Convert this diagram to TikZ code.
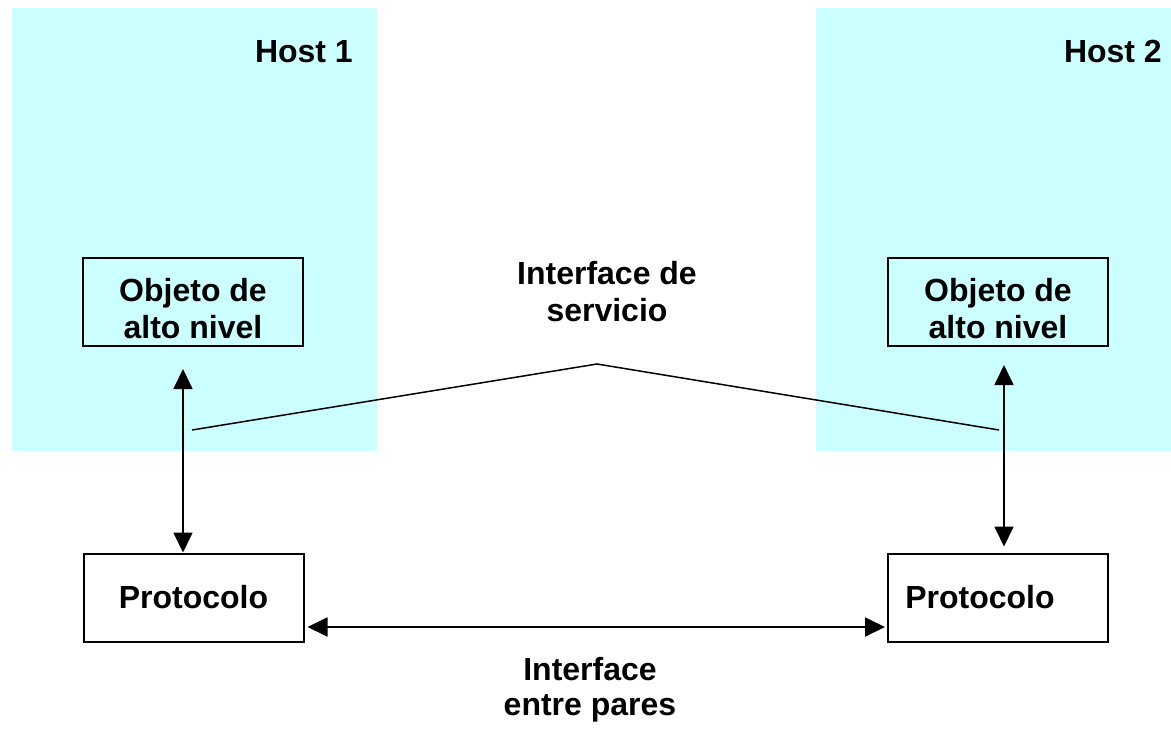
\documentclass[tikz,border=0pt]{standalone}
\usepackage{fontspec}
\setmainfont{Liberation Sans}
\usetikzlibrary{arrows.meta}
\definecolor{hostcyan}{RGB}{204,255,255}
\tikzset{
  lbl/.style={font=\fontsize{32}{37}\selectfont\bfseries, inner sep=0pt, align=center},
  box/.style={draw=black, line width=2pt, minimum width=220pt, minimum height=88pt,
              inner sep=0pt, font=\fontsize{32}{37}\selectfont\bfseries, align=center},
  arr/.style={line width=1.8pt, {Triangle[length=20pt,width=19pt]}-{Triangle[length=20pt,width=19pt]}},
  iface/.style={line width=1.5pt}
}
\begin{document}
\begin{tikzpicture}[x=1pt,y=-1pt]
\useasboundingbox (0,0) rectangle (1171,729);
% host areas
\fill[hostcyan] (12,8) rectangle (377,451);
\fill[hostcyan] (816,8) rectangle (1171,451);
\node[lbl, anchor=base east] (host1) at (353,62) {Host 1};
\node[lbl, anchor=base east] (host2) at (1162,62) {Host 2};
% boxes
\node[box] (objL) at (193,302) {\rule{0pt}{37pt}Objeto de\\alto nivel};
\node[box] (objR) at (998,302) {\rule{0pt}{37pt}Objeto de\\alto nivel};
\node[box] (protL) at (193.5,597.5) {Protocolo};
\node[box] (protR) at (998,597.5) {Protocolo\hspace*{36pt}};
% service interface
\coordinate (sL) at (192,430);
\coordinate (sP) at (597,364);
\coordinate (sR) at (999,430);
\draw[iface] (sL) -- (sP) -- (sR);
\node[lbl, anchor=base] (servT) at (607,321) {Interface de\\servicio};
% vertical arrows
\coordinate (aL) at (183,369);
\coordinate (aR) at (1004,365);
\draw[arr] (aL) -- (aL |- protL.north);
\draw[arr, shorten >=6pt] (aR) -- (aR |- protR.north);
% peer interface
\draw[arr, shorten <=3pt, shorten >=2pt] ([yshift=-29.5pt]protL.east) -- ([yshift=-29.5pt]protR.west);
\node[lbl, anchor=base, font=\fontsize{32}{35}\selectfont\bfseries] (peerT) at (590,715) {Interface\\entre pares};
\end{tikzpicture}
\end{document}
